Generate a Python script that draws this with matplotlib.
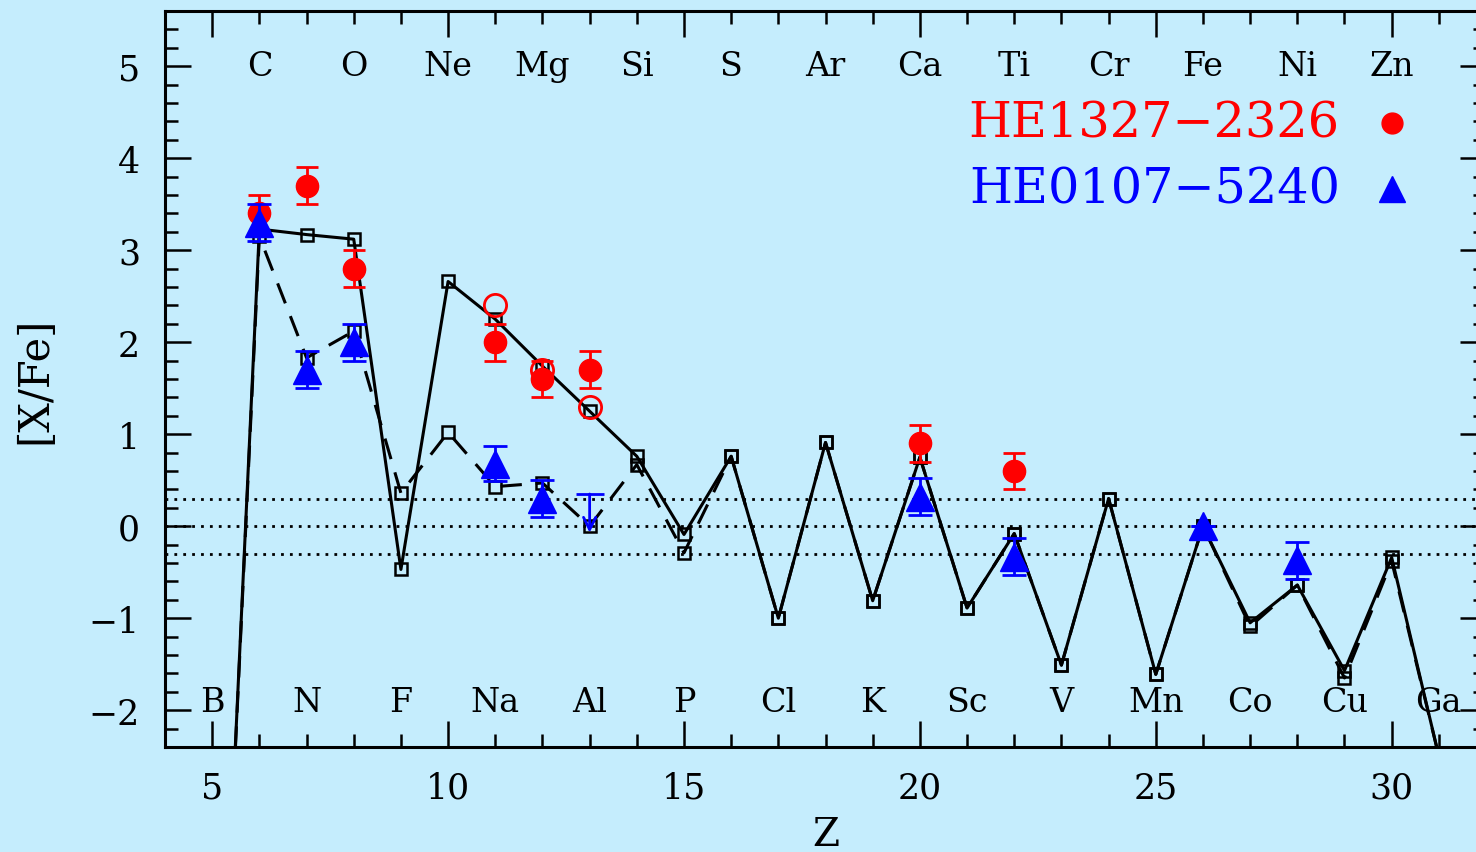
import numpy as np
import matplotlib
matplotlib.use("Agg")
import matplotlib.pyplot as plt

plt.rcParams['font.family'] = ['DejaVu Serif']
plt.rcParams['axes.unicode_minus'] = True

bg = '#c5edfd'

# model yields, Z = 5 (B) .. 31 (Ga)
z_model = np.arange(5, 32)
model_solid = [-7.8, 3.23, 3.17, 3.12, -0.47, 2.66, 2.25, 1.74, 1.25, 0.76,
               -0.09, 0.76, -1.0, 0.91, -0.81, 0.75, -0.89, -0.08, -1.51, 0.30,
               -1.61, 0.0, -1.05, -0.64, -1.57, -0.34, -2.5]
model_dashed = [-7.8, 3.15, 1.83, 2.12, 0.36, 1.02, 0.43, 0.47, 0.0, 0.67,
                -0.29, 0.76, -1.0, 0.91, -0.81, 0.75, -0.89, -0.08, -1.51, 0.30,
                -1.61, 0.0, -1.09, -0.64, -1.65, -0.38, -2.5]

# HE1327-2326
he1327_z = [6, 7, 8, 11, 12, 13, 20, 22]
he1327_val = [3.4, 3.7, 2.8, 2.0, 1.6, 1.7, 0.9, 0.6]
he1327_err = [0.2, 0.2, 0.2, 0.2, 0.2, 0.2, 0.2, 0.2]
he1327_open_z = [11, 12, 13]
he1327_open_val = [2.4, 1.7, 1.3]

# HE0107-5240
he0107_z = [6, 7, 8, 11, 12, 20, 22, 26, 28]
he0107_val = [3.3, 1.7, 2.0, 0.68, 0.3, 0.32, -0.33, 0.0, -0.37]
he0107_err = [0.2, 0.2, 0.2, 0.19, 0.2, 0.2, 0.2, 0.0, 0.2]
he0107_lim_z = [13]
he0107_lim_val = [0.35]

# element names
top_el = ['C', 'O', 'Ne', 'Mg', 'Si', 'S', 'Ar', 'Ca', 'Ti', 'Cr', 'Fe', 'Ni', 'Zn']
top_z = [6, 8, 10, 12, 14, 16, 18, 20, 22, 24, 26, 28, 30]
bot_el = ['B', 'N', 'F', 'Na', 'Al', 'P', 'Cl', 'K', 'Sc', 'V', 'Mn', 'Co', 'Cu', 'Ga']
bot_z = [5, 7, 9, 11, 13, 15, 17, 19, 21, 23, 25, 27, 29, 31]

fig = plt.figure(figsize=(14.76, 8.53), dpi=100, facecolor=bg)
ax = fig.add_axes([0.1118, 0.1231, 0.895, 0.8628], facecolor=bg)

for yy in [0.3, 0.0, -0.3]:
    ax.axhline(yy, color='black', lw=2.0, ls=(0, (1, 2.2)), zorder=1)

ax.plot(z_model, model_solid, color='black', lw=2.2, marker='s', ms=8,
        mfc='none', mec='black', mew=1.8, zorder=2)
ax.plot(z_model, model_dashed, color='black', lw=2.2, ls=(0, (7, 4.5)), marker='s', ms=8,
        mfc='none', mec='black', mew=1.8, zorder=2)

ax.errorbar(he1327_z, he1327_val, yerr=he1327_err, fmt='o', color='red', ms=16,
            ecolor='red', elinewidth=2, capsize=8, capthick=2, zorder=4)
ax.plot(he1327_open_z, he1327_open_val, 'o', ms=16, mfc='none', mec='red', mew=2, zorder=4)

ax.errorbar(he0107_z, he0107_val, yerr=he0107_err, fmt='^', color='blue', ms=20,
            ecolor='blue', elinewidth=2, capsize=8.5, capthick=2, zorder=5)
for zz, vv in zip(he0107_lim_z, he0107_lim_val):
    ax.plot([zz], [vv], marker='_', ms=20, mew=2, color='blue', zorder=5)
    ax.annotate('', xy=(zz, vv - 0.42), xytext=(zz, vv),
                arrowprops=dict(arrowstyle='->', color='blue', lw=2,
                                mutation_scale=22, shrinkA=0, shrinkB=0), zorder=5)

for name, zz in zip(top_el, top_z):
    ax.text(zz, 5.0, name, ha='center', va='center', fontsize=24)
for name, zz in zip(bot_el, bot_z):
    ax.text(zz, -1.91, name, ha='center', va='center', fontsize=24)

ax.text(28.9, 4.38, 'HE1327\u22122326', color='red', fontsize=35.5, ha='right', va='center')
ax.plot([30.0], [4.38], 'o', color='red', ms=15)
ax.text(28.9, 3.67, 'HE0107\u22125240', color='blue', fontsize=35.5, ha='right', va='center')
ax.plot([30.0], [3.67], '^', color='blue', ms=19)

ax.set_xlim(4, 32)
ax.set_ylim(-2.4, 5.6)
ax.set_xticks(np.arange(5, 32, 5))
ax.set_xticks(np.arange(4, 33, 1), minor=True)
ax.set_yticks(np.arange(-2, 6, 1))
ax.set_yticks(np.arange(-2.4, 5.61, 0.2), minor=True)

ax.tick_params(axis='x', which='major', direction='in', length=19, width=1.8,
               top=True, bottom=True, labelsize=25, pad=17)
ax.tick_params(axis='x', which='minor', direction='in', length=9.5, width=1.8,
               top=True, bottom=True)
ax.tick_params(axis='y', which='major', direction='in', length=19, width=1.8,
               left=True, right=True, labelsize=25, pad=18)
ax.tick_params(axis='y', which='minor', direction='in', length=9.5, width=1.8,
               left=True, right=True)
for sp in ax.spines.values():
    sp.set_linewidth(2.2)

ax.set_xlabel('Z', fontsize=28, labelpad=8)
ax.set_ylabel('[X/Fe]', fontsize=30, labelpad=24)

fig.savefig('out.png', dpi=100, facecolor=bg)
